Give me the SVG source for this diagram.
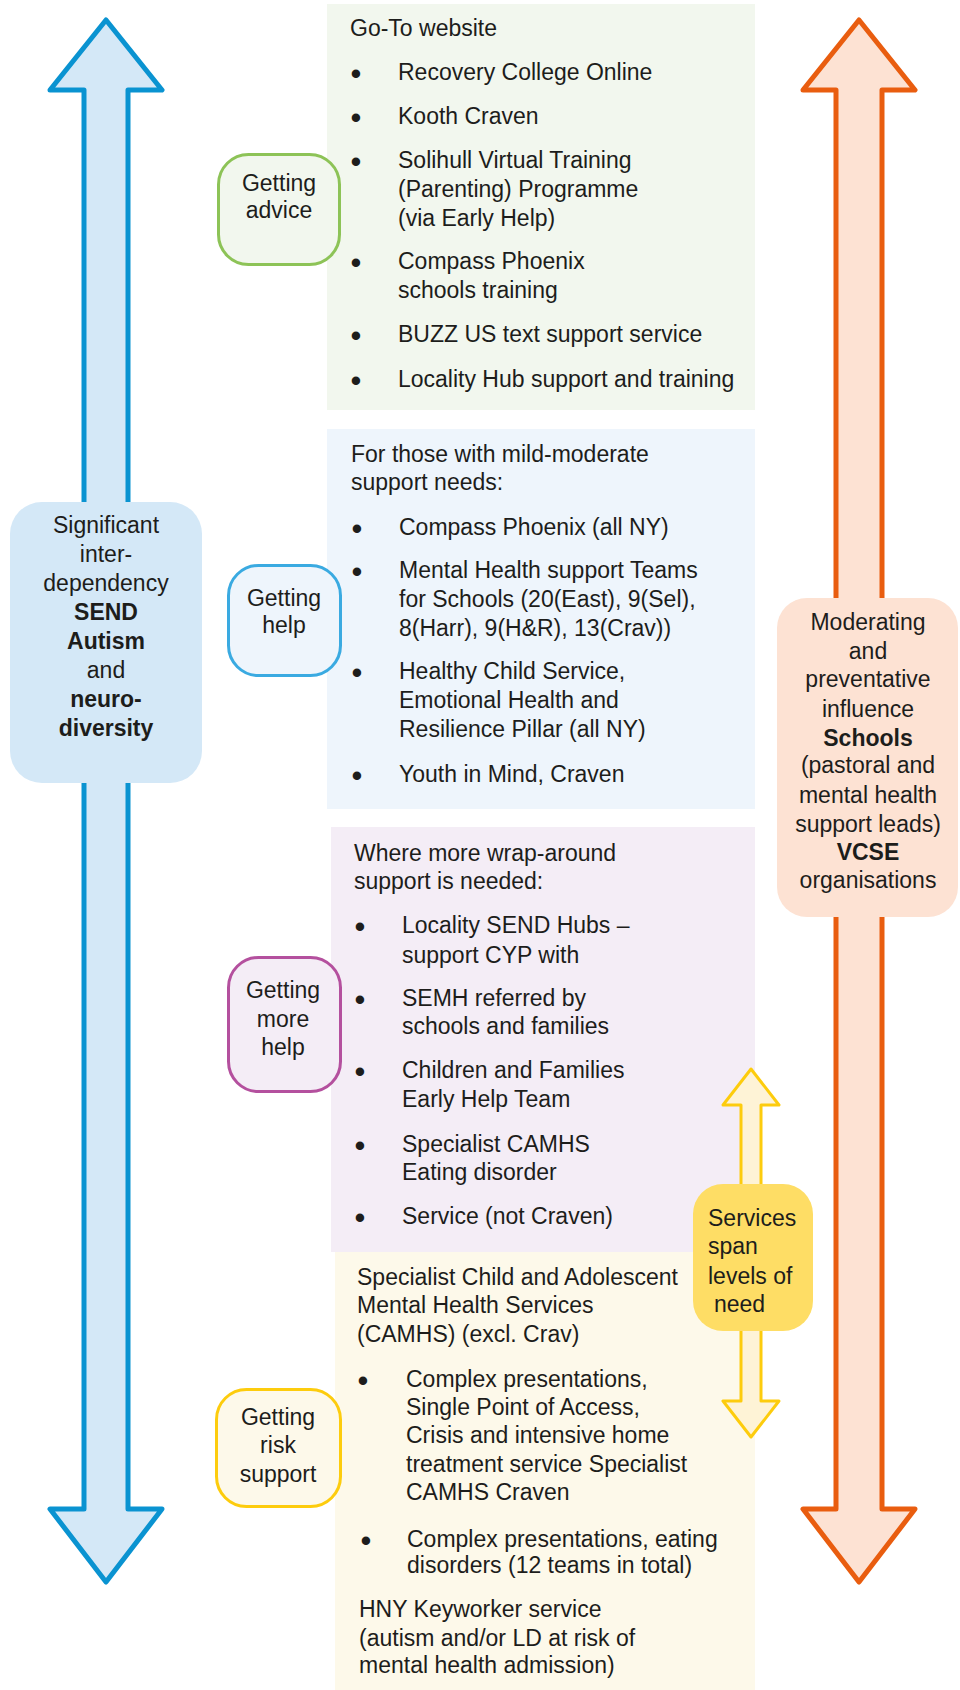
<svg xmlns="http://www.w3.org/2000/svg" width="960" height="1690" viewBox="0 0 960 1690">
<style>
text{font-family:"Liberation Sans",Arial,Helvetica,sans-serif;font-size:23px;fill:#1d1d1b}
.c{text-anchor:middle}
.b{font-weight:bold}
.bl{font-size:31px;text-anchor:middle}
.tag{stroke-width:3}
</style>
<rect width="960" height="1690" fill="#ffffff"/>
<g id="arrows" stroke-linejoin="round">
<polygon points="106,20 162,90 128,90 128,1509 162,1509 106,1582 50,1509 84,1509 84,90 50,90" fill="#d4e8f7" stroke="#0a93d1" stroke-width="5"/>
<polygon points="859,20 915,90 882,90 882,1509 915,1509 859,1582 803,1509 836,1509 836,90 803,90" fill="#fde2d3" stroke="#e95d0f" stroke-width="5"/>
</g>
<g id="panel-advice">
<rect x="327" y="4" width="428" height="406" fill="#f2f7ee"/>
<text x="350" y="36">Go-To website</text>
<text class="bl" x="356" y="84">•</text><text x="398" y="80">Recovery College Online</text>
<text class="bl" x="356" y="128">•</text><text x="398" y="124">Kooth Craven</text>
<text class="bl" x="356" y="172">•</text><text x="398" y="168">Solihull Virtual Training</text>
<text x="398" y="197">(Parenting) Programme</text>
<text x="398" y="226">(via Early Help)</text>
<text class="bl" x="356" y="273">•</text><text x="398" y="269">Compass Phoenix</text>
<text x="398" y="298">schools training</text>
<text class="bl" x="356" y="346">•</text><text x="398" y="342">BUZZ US text support service</text>
<text class="bl" x="356" y="391">•</text><text x="398" y="387">Locality Hub support and training</text>
</g>
<g id="panel-help">
<rect x="327" y="429" width="428" height="380" fill="#eef5fc"/>
<text x="351" y="462">For those with mild-moderate</text>
<text x="351" y="490">support needs:</text>
<text class="bl" x="357" y="539">•</text><text x="399" y="535">Compass Phoenix (all NY)</text>
<text class="bl" x="357" y="582">•</text><text x="399" y="578">Mental Health support Teams</text>
<text x="399" y="607">for Schools (20(East), 9(Sel),</text>
<text x="399" y="636">8(Harr), 9(H&amp;R), 13(Crav))</text>
<text class="bl" x="357" y="683">•</text><text x="399" y="679">Healthy Child Service,</text>
<text x="399" y="708">Emotional Health and</text>
<text x="399" y="737">Resilience Pillar (all NY)</text>
<text class="bl" x="357" y="786">•</text><text x="399" y="782">Youth in Mind, Craven</text>
</g>
<g id="panel-more-help">
<rect x="331" y="827" width="424" height="425" fill="#f4edf6"/>
<text x="354" y="861">Where more wrap-around</text>
<text x="354" y="889">support is needed:</text>
<text class="bl" x="360" y="937">•</text><text x="402" y="933">Locality SEND Hubs –</text>
<text x="402" y="963">support CYP with</text>
<text class="bl" x="360" y="1010">•</text><text x="402" y="1006">SEMH referred by</text>
<text x="402" y="1034">schools and families</text>
<text class="bl" x="360" y="1082">•</text><text x="402" y="1078">Children and Families</text>
<text x="402" y="1107">Early Help Team</text>
<text class="bl" x="360" y="1156">•</text><text x="402" y="1152">Specialist CAMHS</text>
<text x="402" y="1180">Eating disorder</text>
<text class="bl" x="360" y="1228">•</text><text x="402" y="1224">Service (not Craven)</text>
</g>
<g id="panel-risk">
<rect x="335" y="1252" width="420" height="438" fill="#fdf9ea"/>
<text x="357" y="1285">Specialist Child and Adolescent</text>
<text x="357" y="1313">Mental Health Services</text>
<text x="357" y="1342">(CAMHS) (excl. Crav)</text>
<text class="bl" x="363" y="1391">•</text><text x="406" y="1387">Complex presentations,</text>
<text x="406" y="1415">Single Point of Access,</text>
<text x="406" y="1443">Crisis and intensive home</text>
<text x="406" y="1472">treatment service Specialist</text>
<text x="406" y="1500">CAMHS Craven</text>
<text class="bl" x="366" y="1551">•</text><text x="407" y="1547">Complex presentations, eating</text>
<text x="407" y="1573">disorders (12 teams in total)</text>
<text x="359" y="1617">HNY Keyworker service</text>
<text x="359" y="1646">(autism and/or LD at risk of</text>
<text x="359" y="1673">mental health admission)</text>
</g>
<g id="tag-advice">
<rect class="tag" x="218.5" y="154.5" width="121" height="110" rx="30" fill="#f2f7ee" stroke="#8dc357"/>
<text class="c" x="279" y="191">Getting</text>
<text class="c" x="279" y="218">advice</text>
</g>
<g id="tag-help">
<rect class="tag" x="228.5" y="565.5" width="112" height="110" rx="30" fill="#eef5fc" stroke="#3aaae1"/>
<text class="c" x="284" y="606">Getting</text>
<text class="c" x="284" y="633">help</text>
</g>
<g id="tag-more-help">
<rect class="tag" x="228.5" y="957.5" width="112" height="134" rx="30" fill="#f4edf6" stroke="#b4509e"/>
<text class="c" x="283" y="998">Getting</text>
<text class="c" x="283" y="1027">more</text>
<text class="c" x="283" y="1055">help</text>
</g>
<g id="tag-risk">
<rect class="tag" x="216.5" y="1389.5" width="124" height="117" rx="30" fill="#fdf9ea" stroke="#fdcc0d"/>
<text class="c" x="278" y="1425">Getting</text>
<text class="c" x="278" y="1453">risk</text>
<text class="c" x="278" y="1482">support</text>
</g>
<g id="span-arrow">
<polygon points="751,1069 779,1105 761,1105 761,1401 779,1401 751,1437 723,1401 741,1401 741,1105 723,1105" fill="#fef3d6" stroke="#fdcc0d" stroke-width="3" stroke-linejoin="round"/>
</g>
<g id="services">
<rect x="693" y="1184" width="120" height="147" rx="30" fill="#fedd65"/>
<text x="708" y="1226">Services</text>
<text x="708" y="1254">span</text>
<text x="708" y="1284">levels of</text>
<text x="714" y="1312">need</text>
</g>
<g id="send">
<rect x="10" y="502" width="192" height="281" rx="32" fill="#d4e8f7"/>
<text class="c" x="106" y="533">Significant</text>
<text class="c" x="106" y="562">inter-</text>
<text class="c" x="106" y="591">dependency</text>
<text class="c b" x="106" y="620">SEND</text>
<text class="c b" x="106" y="649">Autism</text>
<text class="c" x="106" y="678">and</text>
<text class="c b" x="106" y="707">neuro-</text>
<text class="c b" x="106" y="736">diversity</text>
</g>
<g id="moderating">
<rect x="777" y="598" width="181" height="319" rx="30" fill="#fde2d3"/>
<text class="c" x="868" y="630">Moderating</text>
<text class="c" x="868" y="659">and</text>
<text class="c" x="868" y="687">preventative</text>
<text class="c" x="868" y="717">influence</text>
<text class="c b" x="868" y="746">Schools</text>
<text class="c" x="868" y="773">(pastoral and</text>
<text class="c" x="868" y="803">mental health</text>
<text class="c" x="868" y="832">support leads)</text>
<text class="c b" x="868" y="860">VCSE</text>
<text class="c" x="868" y="888">organisations</text>
</g>
</svg>
